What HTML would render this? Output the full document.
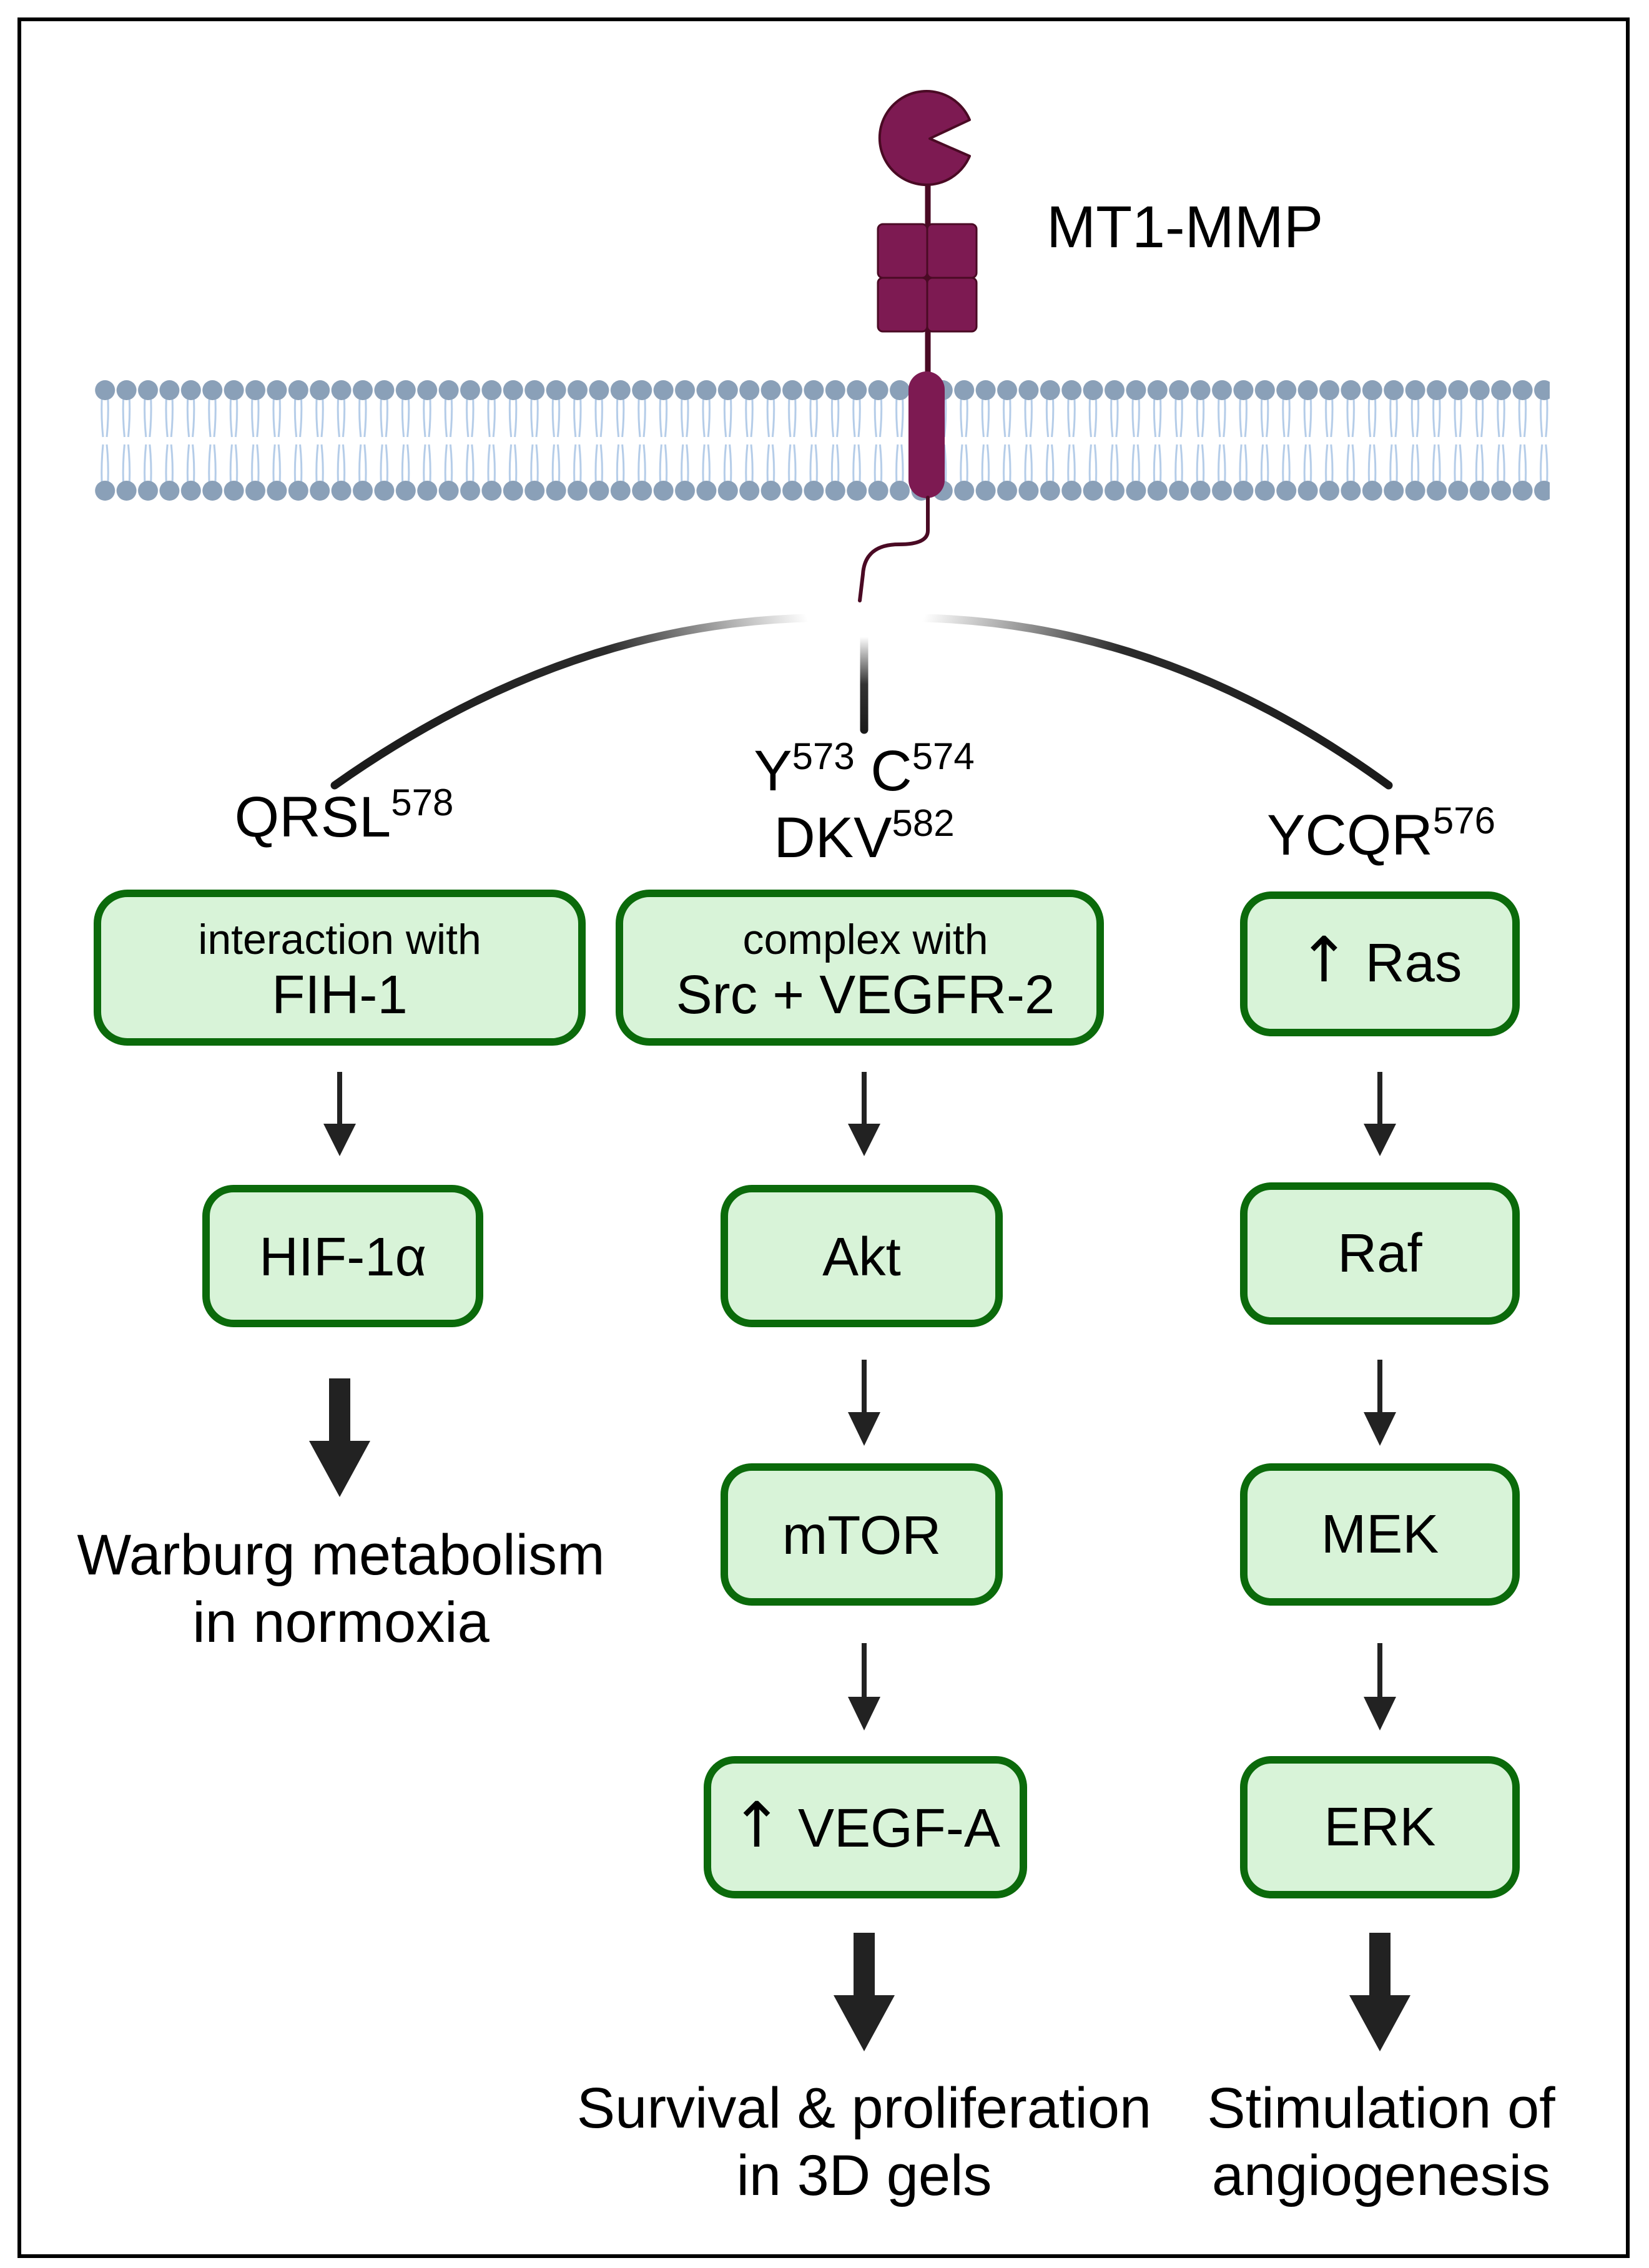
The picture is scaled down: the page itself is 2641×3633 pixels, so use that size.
<!DOCTYPE html>
<html><head><meta charset="utf-8"><style>html,body{margin:0;padding:0;background:#fff}svg{display:block}</style></head>
<body>
<svg xmlns="http://www.w3.org/2000/svg" width="2641" height="3633" viewBox="0 0 2641 3633" font-family="'Liberation Sans', sans-serif">
<defs>
<pattern id="lip" x="151" y="0" width="34.4" height="3633" patternUnits="userSpaceOnUse">
<g stroke="#b4cce8" stroke-width="3" fill="none">
<path d="M12 640 Q11 670 14 700 M22 640 Q23 670 20 700"/>
<path d="M14 712 Q11 742 12 772 M20 712 Q23 742 22 772"/>
</g>
<circle cx="17.2" cy="625" r="16" fill="#8aa0b8"/>
<circle cx="17.2" cy="786" r="16" fill="#8aa0b8"/>
</pattern>
<linearGradient id="gl" gradientUnits="userSpaceOnUse" x1="536" y1="1258" x2="1293" y2="990">
<stop offset="0" stop-color="#1a1a1a"/><stop offset="0.6" stop-color="#2a2a2a"/><stop offset="1" stop-color="#ffffff"/></linearGradient>
<linearGradient id="gr" gradientUnits="userSpaceOnUse" x1="2224" y1="1258" x2="1479" y2="990">
<stop offset="0" stop-color="#1a1a1a"/><stop offset="0.6" stop-color="#2a2a2a"/><stop offset="1" stop-color="#ffffff"/></linearGradient>
<linearGradient id="gc" gradientUnits="userSpaceOnUse" x1="0" y1="1020" x2="0" y2="1172">
<stop offset="0" stop-color="#ffffff"/><stop offset="0.5" stop-color="#333"/><stop offset="1" stop-color="#1a1a1a"/></linearGradient>
</defs>
<rect x="31" y="31" width="2576" height="3583" fill="#fff" stroke="#000" stroke-width="6"/>

<!-- membrane -->
<rect x="150" y="600" width="2332" height="210" fill="url(#lip)"/>

<!-- protein -->
<line x1="1486" y1="290" x2="1486" y2="600" stroke="#4a0a24" stroke-width="9"/>
<path d="M1489 222 L1553 192 A75 75 0 1 0 1553 250 Z" fill="#7d1a52" stroke="#4a0a24" stroke-width="4" stroke-linejoin="round"/>
<g fill="#7d1a52" stroke="#4a0a24" stroke-width="3">
<rect x="1406" y="359" width="79" height="86" rx="8"/>
<rect x="1485" y="359" width="79" height="86" rx="8"/>
<rect x="1406" y="445" width="79" height="86" rx="8"/>
<rect x="1485" y="445" width="79" height="86" rx="8"/>
</g>
<rect x="1455" y="595" width="58" height="203" rx="29" fill="#7d1a52"/>
<path d="M1486 797 L1486 850 Q1486 872 1440 872 Q1385 872 1382 920 L1377 962" fill="none" stroke="#4a0a24" stroke-width="6" stroke-linecap="round"/>
<text x="1676" y="396" font-size="95" fill="#000">MT1-MMP</text>

<!-- arcs -->
<path d="M536 1258 Q901 1000 1293 990" fill="none" stroke="url(#gl)" stroke-width="13" stroke-linecap="round"/>
<path d="M2224 1258 Q1871 1000 1479 990" fill="none" stroke="url(#gr)" stroke-width="13" stroke-linecap="round"/>
<line x1="1384" y1="1020" x2="1384" y2="1169" stroke="url(#gc)" stroke-width="13" stroke-linecap="round"/>

<!-- site labels -->
<g fill="#000" text-anchor="middle">
<text x="551" y="1340" font-size="92">QRSL<tspan font-size="60" dy="-34">578</tspan></text>
<text x="1384" y="1266" font-size="92">Y<tspan font-size="60" dy="-34">573</tspan><tspan dy="34"> C</tspan><tspan font-size="60" dy="-34">574</tspan></text>
<text x="1384" y="1373" font-size="92">DKV<tspan font-size="60" dy="-34">582</tspan></text>
<text x="2212" y="1369" font-size="92">YCQR<tspan font-size="60" dy="-34">576</tspan></text>
</g>

<!-- boxes -->
<g fill="#d8f3d8" stroke="#0b6a0b" stroke-width="12">
<rect x="156" y="1431" width="776" height="238" rx="48"/>
<rect x="992" y="1431" width="770" height="238" rx="48"/>
<rect x="1992" y="1434" width="436" height="220" rx="44"/>
<rect x="330" y="1904" width="438" height="216" rx="44"/>
<rect x="1160" y="1904" width="440" height="216" rx="44"/>
<rect x="1992" y="1900" width="436" height="216" rx="44"/>
<rect x="1160" y="2350" width="440" height="216" rx="44"/>
<rect x="1992" y="2350" width="436" height="216" rx="44"/>
<rect x="1133" y="2819" width="506" height="216" rx="44"/>
<rect x="1992" y="2819" width="436" height="216" rx="44"/>
</g>
<g fill="#000" text-anchor="middle">
<text x="544" y="1528" font-size="68">interaction with</text>
<text x="544" y="1623" font-size="87">FIH-1</text>
<text x="1386" y="1528" font-size="68">complex with</text>
<text x="1386" y="1623" font-size="87">Src + VEGFR-2</text>
<text x="2210" y="1572" font-size="87"><tspan font-size="100" font-family="'DejaVu Sans', sans-serif">↑</tspan> Ras</text>
<text x="549" y="2043" font-size="87">HIF-1α</text>
<text x="1380" y="2043" font-size="87">Akt</text>
<text x="2210" y="2037" font-size="87">Raf</text>
<text x="1380" y="2489" font-size="87">mTOR</text>
<text x="2210" y="2487" font-size="87">MEK</text>
<text x="1386" y="2958" font-size="87"><tspan font-size="100" font-family="'DejaVu Sans', sans-serif">↑</tspan> VEGF-A</text>
<text x="2210" y="2956" font-size="87">ERK</text>
</g>

<!-- small arrows -->
<g fill="#222" stroke="none">
<rect x="540" y="1717" width="8" height="90"/><polygon points="518,1800 570,1800 544,1852"/>
<rect x="1380" y="1717" width="8" height="90"/><polygon points="1358,1800 1410,1800 1384,1852"/>
<rect x="2206" y="1717" width="8" height="90"/><polygon points="2184,1800 2236,1800 2210,1852"/>
<rect x="1380" y="2178" width="8" height="90"/><polygon points="1358,2262 1410,2262 1384,2316"/>
<rect x="2206" y="2178" width="8" height="90"/><polygon points="2184,2262 2236,2262 2210,2316"/>
<rect x="1380" y="2632" width="8" height="90"/><polygon points="1358,2718 1410,2718 1384,2772"/>
<rect x="2206" y="2632" width="8" height="90"/><polygon points="2184,2718 2236,2718 2210,2772"/>
</g>
<!-- big arrows -->
<g fill="#222">
<rect x="527" y="2208" width="34" height="110"/><polygon points="495,2308 593,2308 544,2398"/>
<rect x="1367" y="3096" width="34" height="110"/><polygon points="1335,3196 1433,3196 1384,3286"/>
<rect x="2193" y="3096" width="34" height="110"/><polygon points="2161,3196 2259,3196 2210,3286"/>
</g>

<g fill="#000" text-anchor="middle" font-size="92">
<text x="546" y="2522">Warburg metabolism</text>
<text x="546" y="2630">in normoxia</text>
<text x="1384" y="3408">Survival &amp; proliferation</text>
<text x="1384" y="3516">in 3D gels</text>
<text x="2212" y="3408">Stimulation of</text>
<text x="2212" y="3516">angiogenesis</text>
</g>
</svg>
</body></html>
